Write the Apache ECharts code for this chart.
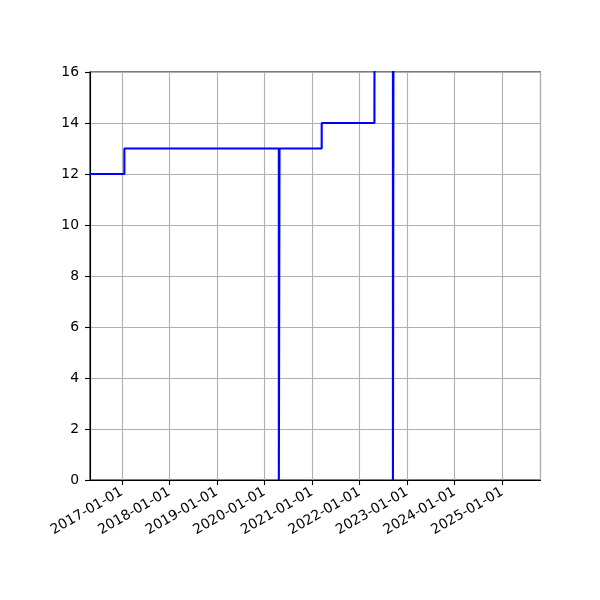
<!DOCTYPE html>
<html>
<head>
<meta charset="utf-8">
<script src="https://cdn.jsdelivr.net/npm/echarts@6/dist/echarts.min.js"></script>
<style>
  html, body { margin: 0; padding: 0; background: #fff; }
  #chart { width: 600px; height: 600px; }
</style>
</head>
<body>
<div id="chart"></div>
<script>
// step data (value holds until the next date)
const dates = [
    '2016-05-02', '2017-01-21', '2020-04-21', '2020-04-26', '2021-03-16',
    '2022-04-25', '2022-04-29', '2022-09-14', '2022-09-21', '2025-05-17'
]
const values = [12, 13, 0, 13, 14, 15, 30, 0, 30, 30]

const xMin = '2016-05-02'
const xMax = '2025-10-21'
const yTicks = [0, 2, 4, 6, 8, 10, 12, 14, 16]

const YEAR = 365 * 24 * 3600 * 1000
const chart = echarts.init(document.getElementById('chart'))

const font = { fontFamily: 'DejaVu Sans', fontSize: 13.9, color: '#000' }

chart.setOption({
    animation: false,
    grid: {
        left: 90, right: 59.5, top: 72, bottom: 120,
        show: true, borderColor: '#000', borderWidth: 1.1
    },
    xAxis: {
        type: 'time',
        min: xMin,
        max: xMax,
        minInterval: YEAR,
        maxInterval: YEAR + 24 * 3600 * 1000,
        axisLine: { lineStyle: { color: '#000', width: 1.1 } },
        axisTick: { show: true, length: 5, lineStyle: { color: '#000', width: 1.1 } },
        axisLabel: {
            ...font,
            rotate: 30,
            margin: 11,
            formatter: '{yyyy}-{MM}-{dd}',
            showMinLabel: false,
            showMaxLabel: false
        },
        splitLine: { show: true, lineStyle: { color: '#b0b0b0', width: 1.1 } }
    },
    yAxis: {
        type: 'value',
        min: yTicks[0],
        max: yTicks[yTicks.length - 1],
        interval: 2,
        axisLine: { show: true, lineStyle: { color: '#000', width: 1.1 } },
        axisTick: { show: true, length: 5, lineStyle: { color: '#000', width: 1.1 } },
        axisLabel: { ...font, margin: 11 },
        splitLine: { show: true, lineStyle: { color: '#b0b0b0', width: 1.1 } }
    },
    series: [{
        type: 'line',
        step: 'end',
        showSymbol: false,
        clip: true,
        lineStyle: { color: '#0000ff', width: 2.1 },
        data: dates.map((d, i) => [d, values[i]])
    }]
})
</script>
</body>
</html>
